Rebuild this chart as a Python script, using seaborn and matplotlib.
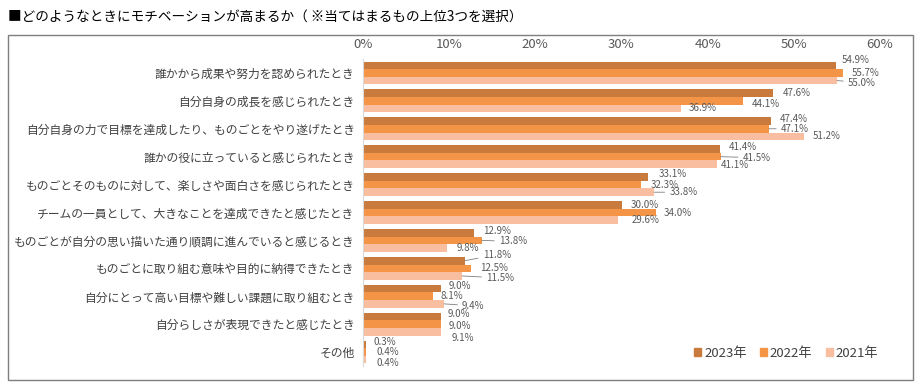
import matplotlib
matplotlib.use("Agg")
import matplotlib.pyplot as plt
import seaborn as sns
import pandas as pd
from matplotlib.patches import Rectangle

categories = [
    "誰かから成果や努力を認められたとき",
    "自分自身の成長を感じられたとき",
    "自分自身の力で目標を達成したり、ものごとをやり遂げたとき",
    "誰かの役に立っていると感じられたとき",
    "ものごとそのものに対して、楽しさや面白さを感じられたとき",
    "チームの一員として、大きなことを達成できたと感じたとき",
    "ものごとが自分の思い描いた通り順調に進んでいると感じるとき",
    "ものごとに取り組む意味や目的に納得できたとき",
    "自分にとって高い目標や難しい課題に取り組むとき",
    "自分らしさが表現できたと感じたとき",
    "その他",
]
years = ["2023年", "2022年", "2021年"]
v2023 = [54.9, 47.6, 47.4, 41.4, 33.1, 30.0, 12.9, 11.8, 9.0, 9.0, 0.3]
v2022 = [55.7, 44.1, 47.1, 41.5, 32.3, 34.0, 13.8, 12.5, 8.1, 9.0, 0.4]
v2021 = [55.0, 36.9, 51.2, 41.1, 33.8, 29.6, 9.8, 11.5, 9.4, 9.1, 0.4]
xticks = [0, 10, 20, 30, 40, 50, 60]
xtick_labels = ["0%", "10%", "20%", "30%", "40%", "50%", "60%"]

colors = ["#C97B3D", "#F39446", "#F8BE9F"]

# label offsets in pixels (dx, dy) and leader-line flags, per year then category
label_offsets = {
    "2023年": [(6, 5), (10, 0), (8, 2), (9, 2), (10, 3), (9, 0), (9, 2), (18, 6), (8, 3), (7, 3), (8, 2)],
    "2022年": [(9, 0), (9, -3), (12, 0), (22, -1), (9, 0), (8, 0), (17, -1), (9, 0), (8, 0), (8, -2), (10, 0)],
    "2021年": [(11, -2), (8, 0), (9, 0), (4, -1), (15, 0), (14, 0), (9, 0), (24, -2), (18, -2), (10, -6), (10, -3)],
}
leaders = {
    "2023年": [False, False, False, False, False, False, False, True, False, False, False],
    "2022年": [False, False, True, True, False, False, True, False, False, False, False],
    "2021年": [True, False, False, False, True, False, False, True, True, False, False],
}

rows = []
for yr, vals in zip(years, [v2023, v2022, v2021]):
    for c, v in zip(categories, vals):
        rows.append({"cat": c, "year": yr, "val": v})
df = pd.DataFrame(rows)

sns.set_theme(style="white")
plt.rcParams["font.family"] = ["Noto Sans CJK JP", "DejaVu Sans"]

fig = plt.figure(figsize=(9.23, 3.85), dpi=100)
ax = fig.add_axes([363 / 923, 1 - 366 / 385, (880 - 363) / 923, 307 / 385])

sns.barplot(data=df, y="cat", x="val", hue="year", order=categories,
            hue_order=years, palette=colors, orient="h", width=0.82,
            gap=0, saturation=1, ax=ax, legend=True, linewidth=0)

ax.set_xlim(0, 60)
ax.set_ylim(len(categories) - 0.5, -0.5)
ax.xaxis.tick_top()
ax.set_xticks(xticks)
ax.set_xticklabels(xtick_labels, fontsize=9.5, color="#595959")
ax.tick_params(axis="x", length=0, pad=6)
ax.tick_params(axis="y", length=0, pad=6, labelsize=8.5, labelcolor="#404040")
ax.set_xlabel("")
ax.set_ylabel("")
for s in ["top", "right", "bottom"]:
    ax.spines[s].set_visible(False)
ax.spines["left"].set_color("#D9D9D9")
ax.spines["left"].set_linewidth(0.8)
ax.grid(False)

for yr, cont in zip(years, ax.containers):
    for i, bar in enumerate(cont):
        w = bar.get_width()
        yc = bar.get_y() + bar.get_height() / 2
        dx, dy = label_offsets[yr][i]
        kw = {}
        if leaders[yr][i]:
            kw["arrowprops"] = dict(arrowstyle="-", color="#7F7F7F", lw=0.6,
                                    shrinkA=1, shrinkB=0)
        ax.annotate(f"{w:.1f}%", xy=(w, yc), xytext=(dx, dy),
                    textcoords="offset pixels", ha="left", va="center",
                    fontsize=7.0, color="#595959", annotation_clip=False, **kw)

ax.get_legend().remove()
handles = [Rectangle((0, 0), 1, 1, color=c) for c in colors]
fig.legend(handles, years, loc="center right",
           bbox_to_anchor=(890 / 923, 1 - 353 / 385), ncol=3, frameon=False,
           fontsize=9.5, handlelength=0.55, handleheight=0.55,
           handletextpad=0.2, columnspacing=1.0, labelcolor="#404040")

fig.text(8 / 923, 1 - 17 / 385, "■どのようなときにモチベーションが高まるか（ ※当てはまるもの上位3つを選択）",
         fontsize=9.8, color="#000000", va="center", ha="left")

fig.patches.append(Rectangle((8 / 923, 1 - 380 / 385), (913 - 8) / 923, (380 - 35) / 385,
                             transform=fig.transFigure, fill=False,
                             edgecolor="#7F7F7F", linewidth=1.0))

fig.savefig("out.png", dpi=100)
